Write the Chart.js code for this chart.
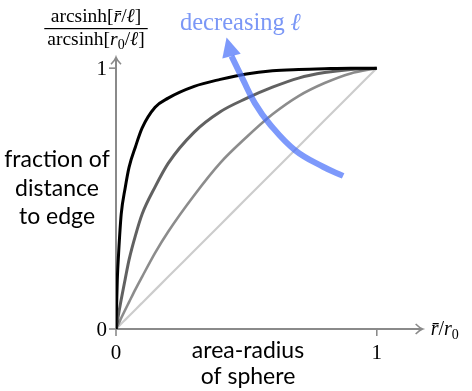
<!DOCTYPE html>
<html><head><meta charset="utf-8">
<script src="https://cdn.jsdelivr.net/npm/chart.js@4/dist/chart.umd.min.js"></script>
<style>html,body{margin:0;padding:0;background:#fff}#wrap{width:472px;height:391px;position:relative}</style>
</head><body><div id="wrap"><canvas id="c"></canvas></div>
<script>
// ---- data ----
const xValues    = [0, 0.005, 0.01, 0.02, 0.035, 0.05, 0.075, 0.1, 0.15, 0.2, 0.3, 0.4, 0.5, 0.6, 0.7, 0.8, 0.9, 1];
const curveSmallL = [0, 0.19, 0.29, 0.44, 0.54, 0.62, 0.70, 0.77, 0.85, 0.885, 0.93, 0.957, 0.978, 0.99, 0.995, 0.998, 1.0, 1];
const curveMidL   = [0, 0.03, 0.058, 0.113, 0.19, 0.265, 0.36, 0.44, 0.545, 0.635, 0.755, 0.833, 0.884, 0.927, 0.962, 0.983, 0.995, 1];
const curveLargeL = [0, 0.011, 0.021, 0.042, 0.073, 0.103, 0.153, 0.2, 0.292, 0.373, 0.513, 0.637, 0.735, 0.823, 0.893, 0.943, 0.98, 1];
const curveInfL   = [0, 0.005, 0.01, 0.02, 0.035, 0.05, 0.075, 0.1, 0.15, 0.2, 0.3, 0.4, 0.5, 0.6, 0.7, 0.8, 0.9, 1];
const arrowX = [0.443, 0.488, 0.533, 0.590, 0.686, 0.794, 0.871];
const arrowY = [1.046, 0.954, 0.865, 0.785, 0.686, 0.622, 0.587];
const arrowTip = [0.424, 1.118];
const xTickValues = [0, 1];
const yTickValues = [0, 1];
const xTickLabels = ['0', '1'];
const yTickLabels = ['0', '1'];
const arrowLabel = 'decreasing ';
const leftLabel = ['fraction of', 'distance', 'to edge'];
const bottomLabel = ['area-radius', 'of sphere'];

// ---- drawing ----
const SERIF = '"Liberation Serif", "DejaVu Serif", serif';
const SANS = 'Lato, "Open Sans", sans-serif';
const AXIS = '#8a8a8a';
const BLUE = 'rgba(70,110,250,0.7)';
const BLUE_TXT = '#7b97f6';

const pts = (xs, ys) => xs.map((x, i) => ({x: x, y: ys[i]}));

function rich(ctx, segs, x, y, align, size, color) {
  const fontFor = s => (s === 'i' ? 'italic ' : '') + (s === 'sub' ? Math.round(size * 0.7) : size) + 'px ' + SERIF;
  let w = 0;
  segs.forEach(([t, s]) => { ctx.font = fontFor(s); w += ctx.measureText(t).width; });
  let cx = align === 'center' ? x - w / 2 : (align === 'right' ? x - w : x);
  ctx.fillStyle = color;
  ctx.textBaseline = 'alphabetic';
  ctx.textAlign = 'left';
  segs.forEach(([t, s]) => {
    ctx.font = fontFor(s);
    ctx.fillText(t, cx, y + (s === 'sub' ? size * 0.22 : 0));
    cx += ctx.measureText(t).width;
  });
  return w;
}

const decor = {
  id: 'decor',
  beforeDatasetsDraw(chart) {
    const ctx = chart.ctx, xs = chart.scales.x, ys = chart.scales.y;
    const x0 = xs.getPixelForValue(0), y0 = ys.getPixelForValue(0);
    const xEnd = xs.getPixelForValue(1.176), yEnd = ys.getPixelForValue(1.042);
    ctx.save();
    ctx.strokeStyle = AXIS; ctx.lineWidth = 2; ctx.lineCap = 'butt';
    ctx.beginPath(); ctx.moveTo(x0, y0); ctx.lineTo(xEnd - 1, y0); ctx.stroke();
    ctx.beginPath(); ctx.moveTo(x0, y0); ctx.lineTo(x0, yEnd + 1); ctx.stroke();
    ctx.lineWidth = 1.6;
    ctx.beginPath();
    ctx.moveTo(xEnd - 7, y0 - 5); ctx.quadraticCurveTo(xEnd - 3, y0 - 1, xEnd, y0); ctx.quadraticCurveTo(xEnd - 3, y0 + 1, xEnd - 7, y0 + 5);
    ctx.stroke();
    ctx.beginPath();
    ctx.moveTo(x0 - 5, yEnd + 7); ctx.quadraticCurveTo(x0 - 1, yEnd + 3, x0, yEnd); ctx.quadraticCurveTo(x0 + 1, yEnd + 3, x0 + 5, yEnd + 7);
    ctx.stroke();
    xTickValues.forEach(v => { const p = xs.getPixelForValue(v); ctx.beginPath(); ctx.moveTo(p, y0 - 1); ctx.lineTo(p, y0 + 7); ctx.stroke(); });
    yTickValues.forEach(v => { const p = ys.getPixelForValue(v); ctx.beginPath(); ctx.moveTo(x0 + 1, p); ctx.lineTo(x0 - 7, p); ctx.stroke(); });
    ctx.restore();
  },
  afterDatasetsDraw(chart) {
    const ctx = chart.ctx, xs = chart.scales.x, ys = chart.scales.y;
    ctx.save();
    const bx = xs.getPixelForValue(arrowX[0]), by = ys.getPixelForValue(arrowY[0]);
    const tx = xs.getPixelForValue(arrowTip[0]), ty = ys.getPixelForValue(arrowTip[1]);
    const dx = tx - bx, dy = ty - by, L = Math.hypot(dx, dy);
    const nx = -dy / L, ny = dx / L, hw = 9.5;
    ctx.fillStyle = BLUE;
    ctx.beginPath();
    ctx.moveTo(tx, ty);
    ctx.lineTo(bx + nx * hw, by + ny * hw);
    ctx.lineTo(bx - nx * hw, by - ny * hw);
    ctx.closePath(); ctx.fill();

    const x0 = xs.getPixelForValue(0), y0 = ys.getPixelForValue(0);
    xTickValues.forEach((v, i) => rich(ctx, [[xTickLabels[i], '']], xs.getPixelForValue(v), y0 + 30, 'center', 21, '#000'));
    yTickValues.forEach((v, i) => rich(ctx, [[yTickLabels[i], '']], x0 - 9, ys.getPixelForValue(v) + 7, 'right', 21, '#000'));
    rich(ctx, [['r\u0304', 'i'], ['/', ''], ['r', 'i'], ['0', 'sub']], xs.getPixelForValue(1.176) + 8, y0 + 6, 'left', 20, '#000');
    const cx = 96;
    const wNum = rich(ctx, [['arcsinh[', ''], ['r\u0304', 'i'], ['/', ''], ['\u2113', 'i'], [']', '']], cx, 22, 'center', 19.5, '#000');
    const wDen = rich(ctx, [['arcsinh[', ''], ['r', 'i'], ['0', 'sub'], ['/', ''], ['\u2113', 'i'], [']', '']], cx, 45, 'center', 19.5, '#000');
    const wl = Math.max(wNum, wDen) + 6;
    ctx.fillStyle = '#000'; ctx.fillRect(cx - wl / 2, 28, wl, 1.2);
    rich(ctx, [[arrowLabel, ''], ['\u2113', 'i']], 180, 30, 'left', 24.5, BLUE_TXT);
    ctx.fillStyle = '#000'; ctx.textAlign = 'center'; ctx.textBaseline = 'middle';
    ctx.font = '23px ' + SANS;
    leftLabel.forEach((t, i) => ctx.fillText(t, 57, 160 + i * 28.5));
    bottomLabel.forEach((t, i) => ctx.fillText(t, 248, 351 + i * 26));
    ctx.restore();
  }
};

const line = (data, color, w, order, mode) => ({data: data, borderColor: color, borderWidth: w, showLine: true, pointRadius: 0, cubicInterpolationMode: mode, tension: 0.4, order: order, fill: false});

new Chart(document.getElementById('c'), {
  type: 'scatter',
  data: {datasets: [
    line(pts(arrowX, arrowY), BLUE, 6, 0, 'default'),
    line(pts(xValues, curveSmallL), '#000000', 3, 1, 'monotone'),
    line(pts(xValues, curveMidL), 'rgba(0,0,0,0.62)', 3, 2, 'monotone'),
    line(pts(xValues, curveLargeL), 'rgba(0,0,0,0.45)', 2.6, 3, 'monotone'),
    line(pts(xValues, curveInfL), 'rgba(0,0,0,0.2)', 2.2, 4, 'monotone')
  ]},
  options: {
    responsive: true, maintainAspectRatio: false, animation: false, events: [],
    layout: {padding: {left: 116, right: 17, top: 16, bottom: 62}},
    scales: {
      x: {type: 'linear', min: 0, max: 1.3, display: false},
      y: {type: 'linear', min: 0, max: 1.2, display: false}
    },
    plugins: {legend: {display: false}, tooltip: {enabled: false}}
  },
  plugins: [decor]
});
</script></body></html>
